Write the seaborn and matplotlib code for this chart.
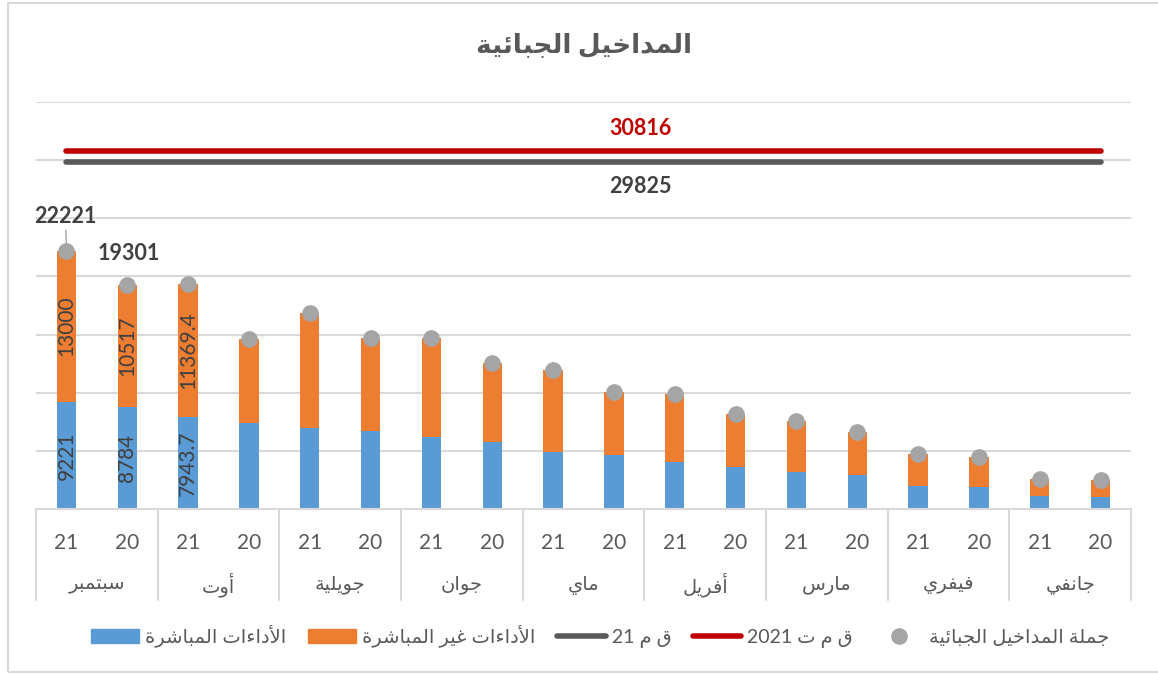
import re
import pandas as pd
import matplotlib
matplotlib.use('Agg')
import matplotlib.pyplot as plt
from matplotlib.patches import Patch, Rectangle
from matplotlib.lines import Line2D
import matplotlib.transforms as mtransforms
import seaborn as sns

# ---- data ----
months = ['جانفي', 'فيفري', 'مارس', 'أفريل', 'ماي', 'جوان', 'جويلية', 'أوت', 'سبتمبر']
years = ['21', '20']
direct_21 = [1150, 2010, 3210, 4070, 4900, 6170, 6990, 7943.7, 9221]
indirect_21 = [1430, 2720, 4330, 5820, 7050, 8530, 9890, 11369.4, 13000]
direct_20 = [1060, 1860, 2900, 3640, 4620, 5790, 6710, 7420, 8784]
indirect_20 = [1410, 2580, 3750, 4550, 5410, 6790, 7970, 7170, 10517]
target_2021 = 30816   # ق م ت 2021
target_21 = 29825     # ق م 21
labelled_bars = [('سبتمبر', '21'), ('سبتمبر', '20'), ('أوت', '21')]
labelled_totals = [('سبتمبر', '21'), ('سبتمبر', '20')]

title = 'المداخيل الجبائية'
lbl_direct = 'الأداءات المباشرة'
lbl_indirect = 'الأداءات غير المباشرة'
lbl_q21 = 'ق م 21'
lbl_q2021 = 'ق م ت 2021'
lbl_total = 'جملة المداخيل الجبائية'

BLUE, ORANGE, DOT = '#5B9BD5', '#ED7D31', '#A5A5A5'
RED, DGREY, TXT, GRID = '#C00000', '#595959', '#404040', '#D9D9D9'


# ---- tiny arabic shaper (no arabic_reshaper / bidi available) ----
_forms = [(0x0621, 0xFE80, 1), (0x0622, 0xFE81, 2), (0x0623, 0xFE83, 2), (0x0624, 0xFE85, 2),
          (0x0625, 0xFE87, 2), (0x0626, 0xFE89, 4), (0x0627, 0xFE8D, 2), (0x0628, 0xFE8F, 4),
          (0x0629, 0xFE93, 2), (0x062A, 0xFE95, 4), (0x062B, 0xFE99, 4), (0x062C, 0xFE9D, 4),
          (0x062D, 0xFEA1, 4), (0x062E, 0xFEA5, 4), (0x062F, 0xFEA9, 2), (0x0630, 0xFEAB, 2),
          (0x0631, 0xFEAD, 2), (0x0632, 0xFEAF, 2), (0x0633, 0xFEB1, 4), (0x0634, 0xFEB5, 4),
          (0x0635, 0xFEB9, 4), (0x0636, 0xFEBD, 4), (0x0637, 0xFEC1, 4), (0x0638, 0xFEC5, 4),
          (0x0639, 0xFEC9, 4), (0x063A, 0xFECD, 4), (0x0641, 0xFED1, 4), (0x0642, 0xFED5, 4),
          (0x0643, 0xFED9, 4), (0x0644, 0xFEDD, 4), (0x0645, 0xFEE1, 4), (0x0646, 0xFEE5, 4),
          (0x0647, 0xFEE9, 4), (0x0648, 0xFEED, 2), (0x0649, 0xFEEF, 2), (0x064A, 0xFEF1, 4)]
FORMS = {chr(c): (b, n) for c, b, n in _forms}
LAM_ALEF = {'آ': 0xFEF5, 'أ': 0xFEF7, 'إ': 0xFEF9, 'ا': 0xFEFB}


def ar(s):
    items = []
    i = 0
    while i < len(s):
        if s[i] == 'ل' and i + 1 < len(s) and s[i + 1] in LAM_ALEF:
            items.append((LAM_ALEF[s[i + 1]], 2))
            i += 2
        else:
            items.append(FORMS.get(s[i], (s[i], 0)))
            i += 1

    def kind(it):
        return {4: 'D', 2: 'R'}.get(it[1], 'U')

    out = []
    for k, it in enumerate(items):
        if kind(it) == 'U':
            out.append(it[0] if isinstance(it[0], str) else chr(it[0]))
            continue
        jp = k > 0 and kind(items[k - 1]) == 'D'
        jn = kind(it) == 'D' and k + 1 < len(items) and kind(items[k + 1]) in 'DR'
        f = 3 if (jp and jn) else 1 if jp else 2 if jn else 0
        out.append(chr(it[0] + f))
    vis = ''.join(out)[::-1]
    return re.sub(r'[0-9.]+', lambda m: m.group(0)[::-1], vis)


# ---- table in display order (right-to-left: September first on the left) ----
rows = []
for m in reversed(range(len(months))):
    for y, d, ind in (('21', direct_21, indirect_21), ('20', direct_20, indirect_20)):
        rows.append({'month': months[m], 'year': y, 'slot': f'{months[m]}-{y}',
                     'direct': d[m], 'indirect': ind[m], 'total': d[m] + ind[m]})
df = pd.DataFrame(rows)
slots = list(df['slot'])
n = len(slots)

sns.set_theme(style='white')
plt.rcParams['font.family'] = ['Lato', 'DejaVu Sans']

fig = plt.figure(figsize=(11.58, 6.75), dpi=100)
ax = fig.add_axes([36 / 1158, 1 - 509 / 675, 1095 / 1158, 407 / 675])

sns.barplot(data=df, x='slot', y='total', order=slots, color=ORANGE, width=0.32,
            saturation=1, linewidth=0, errorbar=None, ax=ax)
sns.barplot(data=df, x='slot', y='direct', order=slots, color=BLUE, width=0.32,
            saturation=1, linewidth=0, errorbar=None, ax=ax)

# target lines
ax.plot(range(n), [target_21] * n, color=DGREY, lw=4, solid_capstyle='round', zorder=4)
ax.plot(range(n), [target_2021] * n, color=RED, lw=4, solid_capstyle='round', zorder=4)
ax.text(9.44, target_2021 + 1900, f'{target_2021}', color=RED, fontsize=15.5,
        fontweight='bold', ha='center', va='center')
ax.text(9.44, target_21 - 2050, f'{target_21}', color=TXT, fontsize=15.5,
        fontweight='bold', ha='center', va='center')

# total dots
ax.plot(range(n), df['total'], 'o', color=DOT, markersize=11, zorder=5)

# value labels
for i, r in df.iterrows():
    if (r['month'], r['year']) in labelled_bars:
        ax.text(i, r['direct'] / 2, f"{r['direct']:g}", rotation=90, ha='center',
                va='center', fontsize=15, color=TXT, zorder=6)
        ax.text(i, r['direct'] + r['indirect'] / 2, f"{r['indirect']:g}", rotation=90,
                ha='center', va='center', fontsize=15, color=TXT, zorder=6)
    if (r['month'], r['year']) in labelled_totals:
        if i == 0:
            ax.annotate(f"{r['total']:g}", xy=(i, r['total'] + 600), xytext=(-1, 12),
                        textcoords='offset points', ha='center', va='bottom', fontsize=15.5,
                        fontweight='bold', color=TXT,
                        arrowprops=dict(arrowstyle='-', color='#A5A5A5', lw=1,
                                        shrinkA=0, shrinkB=0))
        else:
            ax.annotate(f"{r['total']:g}", xy=(i, r['total']), xytext=(1, 15),
                        textcoords='offset points', ha='center', va='bottom', fontsize=15.5,
                        fontweight='bold', color=TXT)

# axes styling
ax.set_ylim(0, 35000)
ax.set_xlim(-0.5, n - 0.5)
ax.set_yticks(range(0, 35001, 5000))
ax.set_yticklabels([])
ax.yaxis.grid(True, color=GRID, lw=1.5)
ax.set_axisbelow(True)
for s in ('top', 'left', 'right'):
    ax.spines[s].set_visible(False)
ax.spines['bottom'].set_color(GRID)
ax.spines['bottom'].set_linewidth(1.5)
ax.set_xlabel('')
ax.set_ylabel('')
ax.set_xticks(range(n))
ax.set_xticklabels(df['year'], fontsize=15, color=DGREY)
ax.tick_params(axis='x', length=0, pad=17)
ax.tick_params(axis='y', length=0)

# month group labels and separators
trans = mtransforms.blended_transform_factory(ax.transData, ax.transAxes)
for g in range(n // 2 + 1):
    ax.plot([2 * g - 0.5] * 2, [0, -0.224], transform=trans, color=GRID, lw=1.5,
            clip_on=False)
for g in range(n // 2):
    ax.text(2 * g + 0.5, -0.187, ar(df['month'][2 * g]), transform=trans, ha='center',
            va='center', fontsize=14, color=DGREY)

# title
fig.text(0.504, 1 - 45 / 675, ar(title), ha='center', va='center', fontsize=19,
         fontweight='bold', color=DGREY)

# legend
handles = [Patch(color=BLUE), Patch(color=ORANGE),
           Line2D([], [], color=DGREY, lw=4, solid_capstyle='round'),
           Line2D([], [], color=RED, lw=4, solid_capstyle='round'),
           Line2D([], [], marker='o', ls='', color=DOT, markersize=11)]
labels = [ar(lbl_direct), ar(lbl_indirect), ar(lbl_q21), ar(lbl_q2021), ar(lbl_total)]
leg = fig.legend(handles, labels, loc='center', bbox_to_anchor=(0.518, 1 - 636 / 675),
                 ncol=5, frameon=False, fontsize=14, handlelength=2.5, columnspacing=1.1,
                 handletextpad=0.3)
for t in leg.get_texts():
    t.set_color(DGREY)

# chart frame
fig.add_artist(Rectangle((8 / 1158, 3 / 675), 1.1, 1 - 6 / 675, transform=fig.transFigure,
                         fill=False, edgecolor=GRID, lw=1.5))

fig.savefig('out.png', dpi=100)
